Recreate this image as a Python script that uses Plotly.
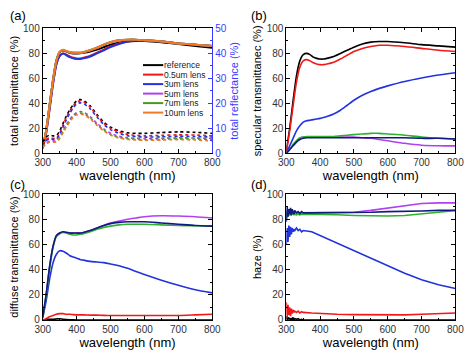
import plotly.graph_objects as go

# ---------------- data ----------------
W = [300, 310, 320, 330, 340, 350, 360, 370, 380, 390, 400, 410, 420, 440, 460,
     480, 500, 525, 550, 575, 600, 650, 700, 750, 800]

names = ["reference", "0.5um lens", "3um lens", "5um lens", "7um lens", "10um lens"]

# (a) total transmittance (%)
tt_ref = [5, 18, 38, 58, 74, 81, 82.5, 81.5, 80.5, 80, 80, 80.2, 80.5, 81.5, 83, 85, 87, 88.5, 89.5, 90, 90, 89, 87.5, 86, 84.5]
tt_05 = [4, 16, 35, 55, 71, 78, 80, 79, 77.5, 76.5, 76, 76, 76.5, 78, 80.5, 83, 85.5, 88, 89.5, 90.5, 90.5, 89.5, 88, 87, 86]
tt_3 = [4, 16, 35, 55, 71, 78, 80, 78.5, 77, 76, 75.5, 75.5, 76, 77.5, 80, 82.5, 85, 87.5, 89.5, 90.5, 90.5, 89.5, 88, 87, 86]
tt_5 = [5, 18, 38, 58, 74, 81, 82.5, 81.5, 80.5, 80.5, 80.5, 80.5, 81, 82.5, 84.5, 87, 89, 90.5, 91, 91, 90.5, 89.5, 88, 87, 86]
tt_7 = [5, 18, 38, 58, 74, 81, 82.5, 81.5, 81, 80.5, 80.5, 80.5, 81, 82.5, 84.5, 87, 89, 90.5, 91, 91, 90.5, 89.5, 88, 87, 86]
tt_10 = [5, 18, 38, 58, 74, 81.5, 83, 82, 81, 80.5, 80.5, 80.5, 81, 82.5, 84.5, 87, 89, 90.5, 91, 91, 90.5, 89.5, 88, 87, 86]

# (a) total reflectance (%)
tr_ref = [4.5, 6.5, 7.3, 7, 7, 9, 12, 15, 17.5, 19.5, 21, 21.5, 21.2, 19, 15.5, 12.5, 10.5, 9, 8.2, 8, 8, 8.3, 8.6, 8.4, 8]
tr_05 = [3.5, 5.5, 6.2, 6, 6, 8, 11.5, 14.5, 17, 19, 20.5, 21, 20.7, 18.5, 15, 12, 10, 8.5, 7.5, 7.2, 7, 7.2, 7.4, 7.3, 7]
tr_3 = [3, 5, 5.8, 5.6, 5.6, 7.5, 10.5, 13.5, 16, 18.3, 19.8, 20.2, 20, 17.8, 14.5, 11.5, 9.5, 8, 7, 6.7, 6.5, 6.6, 6.8, 6.7, 6.5]
tr_5 = [2.5, 4, 5, 5, 5, 6.5, 9, 11.5, 13.5, 15.3, 16.3, 16.7, 16.5, 14.7, 12, 9.8, 8, 6.8, 6.2, 6, 5.9, 6, 6.2, 6.1, 6]
tr_7 = [2.5, 3.8, 4.5, 4.5, 4.5, 6, 8.5, 11, 13, 14.8, 15.8, 16.1, 15.9, 14.2, 11.5, 9.3, 7.6, 6.4, 5.8, 5.6, 5.5, 5.6, 5.8, 5.7, 5.5]
tr_10 = [2.5, 3.8, 4.5, 4.5, 4.5, 6, 8.3, 10.7, 12.7, 14.4, 15.4, 15.7, 15.5, 13.8, 11.2, 9, 7.3, 6.1, 5.5, 5.3, 5.2, 5.3, 5.5, 5.3, 5]

# (b) specular transmittance (%)
sp_ref = [2, 20, 42, 62, 74, 79, 80, 79, 77, 76, 75.5, 75.5, 76, 77.5, 80, 82.5, 85, 87.5, 89, 89.5, 89.5, 88.5, 87, 86, 85]
sp_05 = [1, 18, 38, 57, 69, 74, 75, 74, 72.5, 71.5, 71, 71, 71.5, 73, 75.5, 78.5, 81.5, 84, 85.5, 86.5, 86.5, 85.5, 84, 82.5, 81.5]
sp_3 = [0, 6, 12, 18, 22, 25, 26, 26.5, 27, 27.5, 28, 28.7, 29.5, 31.5, 34.5, 38.5, 42.5, 46.5, 49.5, 52, 54, 57.5, 60.3, 62.7, 64.5]
sp_5 = [0, 3, 7, 10, 12, 13, 13, 13, 13, 13, 13, 13, 13, 13, 13, 13, 13, 12.5, 12, 11, 10, 8, 6.5, 6, 6]
sp_7 = [0, 3, 7, 10, 12.5, 13, 13.5, 13.5, 13.5, 13.5, 13.5, 13.5, 13.5, 13.5, 14, 14.5, 15, 15.5, 16, 16, 15.5, 14.5, 13, 12, 11.5]
sp_10 = [0, 3, 6, 9, 11, 12, 12.5, 12.5, 12.5, 12.5, 12.5, 12.5, 12.5, 12.5, 12.5, 12.5, 12.5, 12.5, 12.5, 12.5, 12.5, 12.5, 12, 12, 11.5]

# (c) diffuse transmittance (%)
df_ref = [0, 0.3, 0.5, 0.5, 0.8, 1, 0.5, 0.3, 0.2, 0.1, 0, 0, 0, 0, 0, 0, 0, 0, 0, 0, 0, 0, 0, 0, 0]
df_05 = [0, 1, 2.5, 3.5, 4.5, 5, 5, 4.5, 4.5, 4.2, 4, 4, 4, 3.8, 3.8, 3.6, 3.5, 3.5, 3.5, 3.5, 3.5, 3.5, 3.5, 4, 4.5]
df_3 = [2, 15, 32, 45, 52, 55, 54.5, 53, 51, 50, 49, 48, 47.5, 46.5, 46, 45.5, 44.5, 43, 41, 38.5, 36, 31.5, 27.5, 24, 21.5]
df_5 = [2, 20, 42, 58, 67, 69, 70, 69.5, 69, 69, 69, 69, 69.5, 71, 73, 75, 77, 78.5, 80, 81, 82, 82.7, 82.5, 82, 81]
df_7 = [2, 19, 40, 57, 66, 68.5, 69.5, 69, 68, 67.5, 67.5, 68, 68.5, 70, 72, 73.5, 74.5, 75.5, 76, 76, 76, 75.5, 75, 74.8, 74.5]
df_10 = [2, 20, 42, 58, 67, 69, 70, 69.5, 69, 69, 69, 69, 69.5, 71, 73, 75, 76.5, 77.5, 78, 78, 78, 77, 76, 75, 74.5]

# (d) haze (%)
Wd = [300, 302.5, 305, 307.5, 310, 312.5, 315, 317.5, 320, 322.5, 325, 330, 335, 340, 345,
      350, 375, 400, 450, 500, 550, 600, 650, 700, 750, 800]
hz_ref = [3, 0, 2, 0.5, 1.5, 0, 1, 0.5, 2, 0, 1, 0.5, 1, 0, 0.5, 0, 0, 0, 0, 0, 0, 0, 0, 0, 0, 0]
hz_05 = [14, 2, 12, 4, 10, 3, 9, 5, 8, 6, 7, 6, 7, 5.5, 6.5, 6, 5.5, 5, 4.5, 4.2, 4, 4, 4, 4.5, 5, 5.5]
hz_3 = [60, 73, 62, 75, 66, 74, 68, 73, 70, 72, 71, 73, 71, 72, 70, 71, 70, 67, 61, 55, 48.5, 42.5, 37, 32, 28, 25]
hz_5 = [80, 87, 83, 86, 84, 86, 84.5, 85.5, 85, 84.5, 85, 85, 85, 85, 85, 85, 85, 85, 85, 85.5, 87, 89, 91, 92.5, 93, 93]
hz_7 = [80, 86, 82, 85, 83, 85, 83.5, 84.5, 84, 83.5, 84, 83.5, 84, 83.5, 84, 84, 84, 84, 83.5, 83, 82.5, 82.5, 83, 84, 85.5, 87]
hz_10 = [78, 90, 82, 88, 84, 89, 83, 88, 86, 84, 87, 85, 86, 84.5, 86, 85, 85, 85, 85, 85.5, 85.5, 86, 86, 86.5, 87, 87]

x_ticks = [300, 400, 500, 600, 700, 800]

# ---------------- styles ----------------
colors_a = ["#000000", "#f01818", "#2233dd", "#b040f0", "#4a9a1e", "#f07a28"]
colors_bcd = ["#000000", "#f01818", "#2233dd", "#b040f0", "#30b030", "#101a80"]
BLUE_AX = "#3a3aff"
FONT = "Liberation Sans, Arial, sans-serif"
TFS = 11  # y-axis title font size

fig = go.Figure()

tt = [tt_ref, tt_05, tt_3, tt_5, tt_7, tt_10]
tr = [tr_ref, tr_05, tr_3, tr_5, tr_7, tr_10]
sp = [sp_ref, sp_05, sp_3, sp_5, sp_7, sp_10]
df = [df_ref, df_05, df_3, df_5, df_7, df_10]
hz = [hz_ref, hz_05, hz_3, hz_5, hz_7, hz_10]

for i, n in enumerate(names):
    fig.add_trace(go.Scatter(x=W, y=tr[i], name=n, xaxis="x", yaxis="y5",
                             mode="lines", line=dict(color=colors_a[i], width=1.6, dash="dot", shape="spline", smoothing=0.6),
                             showlegend=False))
for i, n in enumerate(names):
    fig.add_trace(go.Scatter(x=W, y=tt[i], name=n, xaxis="x", yaxis="y",
                             mode="lines", line=dict(color=colors_a[i], width=2, shape="spline", smoothing=0.6),
                             showlegend=False))
for i, n in enumerate(names):
    fig.add_trace(go.Scatter(x=W, y=sp[i], name=n, xaxis="x2", yaxis="y2",
                             mode="lines", line=dict(color=colors_bcd[i], width=1.6, shape="spline", smoothing=0.6),
                             showlegend=False))
for i, n in enumerate(names):
    fig.add_trace(go.Scatter(x=W, y=df[i], name=n, xaxis="x3", yaxis="y3",
                             mode="lines", line=dict(color=colors_bcd[i], width=1.6, shape="spline", smoothing=0.6),
                             showlegend=False))
for i, n in enumerate(names):
    fig.add_trace(go.Scatter(x=Wd, y=hz[i], name=n, xaxis="x4", yaxis="y4",
                             mode="lines", line=dict(color=colors_bcd[i], width=1.6),
                             showlegend=False))

def xax(domain, anchor):
    return dict(domain=domain, anchor=anchor, range=[300, 800], tickvals=x_ticks,
                ticks="inside", ticklen=4, tickcolor="black", showline=True, linecolor="black",
                linewidth=1, mirror="ticks", showgrid=False, zeroline=False,
                ticklabeloverflow="allow",
                minor=dict(ticks="inside", ticklen=2, dtick=50, tickcolor="black"),
                tickfont=dict(size=10, color="#333", family=FONT),
                title=dict(text="wavelength (nm)", font=dict(size=13, family=FONT, color="black"), standoff=1))

def yax(domain, anchor, title, mirror="ticks"):
    return dict(domain=domain, anchor=anchor, range=[0, 100], tickvals=[0, 20, 40, 60, 80, 100],
                ticks="inside", ticklen=4, tickcolor="black", showline=True, linecolor="black",
                linewidth=1, mirror=mirror, showgrid=False, zeroline=False,
                ticklabeloverflow="allow",
                minor=dict(ticks="inside", ticklen=2, dtick=10, tickcolor="black"),
                tickfont=dict(size=10, color="#333", family=FONT),
                title=dict(text=title, font=dict(size=TFS, family=FONT, color="black"), standoff=2))

dxL = [0.076, 0.447]
dxR = [0.609, 0.979]
dyT = [0.573, 0.935]
dyB = [0.090, 0.455]

fig.update_layout(
    width=474, height=356,
    margin=dict(l=0, r=0, t=0, b=0),
    paper_bgcolor="white", plot_bgcolor="white",
    font=dict(family=FONT),
    showlegend=False,
    xaxis=xax(dxL, "y"),
    yaxis=yax(dyT, "x", "total transmittance (%)", mirror=False),
    yaxis5=dict(overlaying="y", side="right", anchor="x", range=[0, 50],
                tickvals=[0, 10, 20, 30, 40, 50], ticks="inside", ticklen=4, tickcolor=BLUE_AX,
                showline=True, linecolor=BLUE_AX, linewidth=1, showgrid=False, zeroline=False,
                ticklabeloverflow="allow",
                minor=dict(ticks="inside", ticklen=2, dtick=5, tickcolor=BLUE_AX),
                tickfont=dict(size=10, color=BLUE_AX, family=FONT),
                title=dict(text="total reflectance (%)", font=dict(size=TFS, family=FONT, color=BLUE_AX), standoff=4)),
    xaxis2=xax(dxR, "y2"),
    yaxis2=yax(dyT, "x2", "specular transmittanec (%)"),
    xaxis3=xax(dxL, "y3"),
    yaxis3=yax(dyB, "x3", "diffuse transmittance (%)"),
    xaxis4=xax(dxR, "y4"),
    yaxis4=yax(dyB, "x4", "haze (%)"),
)

# panel labels
for lab, x, y in [("(a)", 0.0, 1.0), ("(b)", 0.527, 1.0), ("(c)", 0.0, 0.51), ("(d)", 0.527, 0.51)]:
    fig.add_annotation(text=lab, x=x, y=y, xref="paper", yref="paper", xanchor="left", yanchor="top",
                       showarrow=False, font=dict(size=13, family=FONT, color="black"))

# manual compact legend in panel (a)
leg_x0, leg_x1 = 140 / 474, 161 / 474
for i, n in enumerate(names):
    ypix = 61 + i * 9.8
    yp = 1 - ypix / 356
    fig.add_shape(type="line", xref="paper", yref="paper", x0=leg_x0, x1=leg_x1, y0=yp, y1=yp,
                  line=dict(color=colors_a[i], width=2))
    fig.add_annotation(text=n, x=161 / 474, y=yp, xref="paper", yref="paper", xanchor="left",
                       yanchor="middle", showarrow=False, borderpad=0,
                       font=dict(size=8.5, family=FONT, color="#222"))

fig.write_html("out.html", config={"displayModeBar": False},
               post_script="document.body.style.margin='0';document.body.style.overflow='hidden';")
